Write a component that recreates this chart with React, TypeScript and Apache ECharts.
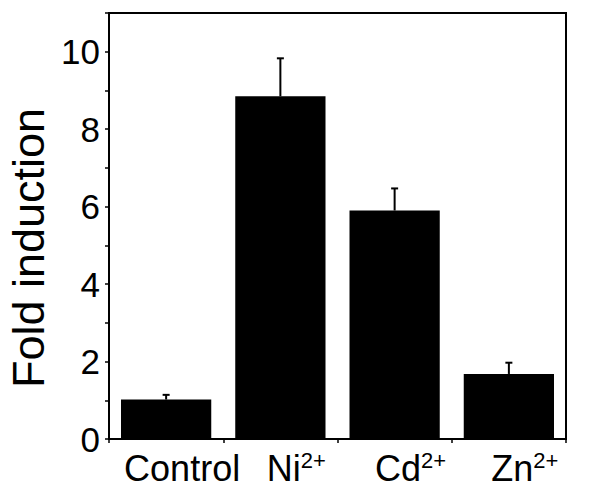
import React, { useEffect, useRef } from "react";
import * as echarts from "echarts";

const categories = ["Control", "Ni2+", "Cd2+", "Zn2+"];
const foldInduction = [1.02, 8.85, 5.9, 1.68];
const errorUpper = [0.12, 0.98, 0.57, 0.29];
const yTickLabels = ["0", "2", "4", "6", "8", "10"];
const yTitle = "Fold induction";

const FONT = "'Liberation Sans', Arial, Helvetica, sans-serif";

export default function App() {
  const ref = useRef<HTMLDivElement>(null);
  useEffect(() => {
    if (!ref.current) return;
    const chart = echarts.init(ref.current, null, { renderer: "svg" });
    const errData = foldInduction.map((v, i) => [i, v, v + errorUpper[i]]);
    chart.setOption({
      animation: false,
      backgroundColor: "#fff",
      grid: {
        left: 109,
        right: 34,
        top: 13,
        bottom: 49,
        show: true,
        borderColor: "#000",
        borderWidth: 2,
        containLabel: false,
      },
      graphic: [
        {
          type: "text",
          x: 28,
          y: 248,
          rotation: Math.PI / 2,
          style: {
            text: yTitle,
            fontSize: 45,
            fontFamily: FONT,
            fill: "#000",
            align: "center",
            verticalAlign: "middle",
          },
        },
      ],
      xAxis: {
        type: "category",
        data: categories,
        axisLine: { lineStyle: { color: "#000", width: 2 } },
        axisTick: { show: true, length: 4, lineStyle: { color: "#000", width: 1.5 } },
        axisLabel: {
          margin: 10,
          padding: [0, 0, 0, 32],
          formatter: (v: string) => {
            const m = v.match(/^([A-Za-z]+)(\d\+)$/);
            if (m) return `{b|${m[1]}}{s|${m[2]}}`;
            return `{b|${v}}`;
          },
          rich: {
            b: { fontSize: 36, fontFamily: FONT, color: "#000", lineHeight: 38 },
            s: {
              fontSize: 22,
              fontFamily: FONT,
              color: "#000",
              verticalAlign: "top",
              lineHeight: 38,
              padding: [0, 0, 8, 0],
            },
          },
        },
        splitLine: { show: false },
      },
      yAxis: {
        type: "value",
        min: 0,
        max: 11,
        interval: 1,
        axisLine: { show: true, lineStyle: { color: "#000", width: 2 } },
        axisTick: { show: true, length: 4, lineStyle: { color: "#000", width: 1.5 } },
        axisLabel: {
          margin: 9,
          fontSize: 35,
          fontFamily: FONT,
          color: "#000",
          formatter: (v: number) => (yTickLabels.includes(String(v)) ? String(v) : ""),
        },
        splitLine: { show: false },
      },
      series: [
        {
          type: "bar",
          data: foldInduction,
          barWidth: "79%",
          itemStyle: { color: "#000" },
          z: 2,
        },
        {
          type: "custom",
          data: errData,
          z: 3,
          renderItem: (params: any, api: any) => {
            const x = api.value(0);
            const p0 = api.coord([x, api.value(1)]);
            const p1 = api.coord([x, api.value(2)]);
            const style = { stroke: "#000", lineWidth: 2 };
            return {
              type: "group",
              children: [
                { type: "line", shape: { x1: p0[0], y1: p0[1], x2: p1[0], y2: p1[1] }, style },
                { type: "line", shape: { x1: p1[0] - 3.5, y1: p1[1], x2: p1[0] + 3.5, y2: p1[1] }, style },
              ],
            };
          },
        },
      ],
    });
    return () => chart.dispose();
  }, []);
  return (
    <div
      ref={ref}
      style={{ position: "fixed", left: 0, top: 0, width: 600, height: 488, background: "#fff" }}
    />
  );
}
